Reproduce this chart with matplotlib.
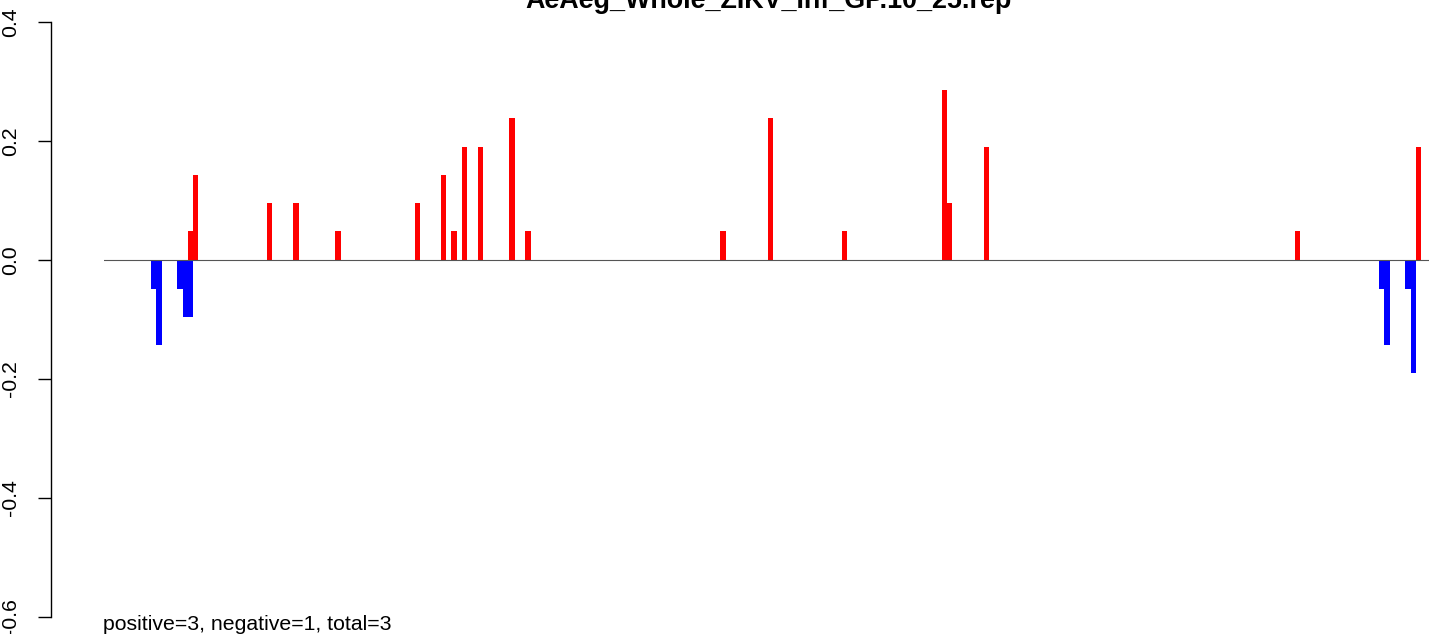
import matplotlib
matplotlib.use("Agg")
import matplotlib.pyplot as plt
from matplotlib.ticker import FormatStrFormatter

plt.rcParams['font.family'] = ['Liberation Sans', 'DejaVu Sans']

# ---- data (bar index along the sequence, value) ----
title = "AeAeg_Whole_ZIKV_Inf_GP.10_25.rep"
footer = "positive=3, negative=1, total=3"

pos_idx = [7, 8, 22, 27, 35, 50, 55, 57, 59, 62, 68, 71, 108, 117, 131, 150, 151, 158, 217, 240]
pos_val = [0.048, 0.143, 0.095, 0.095, 0.048, 0.095, 0.143, 0.048, 0.190, 0.190,
           0.238, 0.048, 0.048, 0.238, 0.048, 0.286, 0.095, 0.190, 0.048, 0.190]

neg_idx = [0, 1, 5, 6, 7, 233, 234, 238, 239]
neg_val = [-0.048, -0.143, -0.048, -0.095, -0.095, -0.048, -0.143, -0.048, -0.190]

yticks = [-0.6, -0.4, -0.2, 0.0, 0.2, 0.4]

# ---- figure ----
W, H, DPI = 1429, 634, 100
fig = plt.figure(figsize=(W / DPI, H / DPI), dpi=DPI)
ax_left_px = 104
ax = fig.add_axes([ax_left_px / W, 0, 1 - ax_left_px / W, 1])

bar_px = 5.271
first_px = 151
ax.set_xlim((ax_left_px - first_px) / bar_px, (W - first_px) / bar_px)
ppu = 595.0
ax.set_ylim(-0.6 - 17 / ppu, 0.4 + 22 / ppu)

ax.bar(neg_idx, neg_val, width=1.0, align='edge', color='#0000ff', linewidth=0, zorder=2)
ax.bar(pos_idx, pos_val, width=1.0, align='edge', color='#ff0000', linewidth=0, zorder=2)
ax.axhline(0, color='#555555', linewidth=0.8, zorder=3)

for s in ['top', 'right', 'bottom']:
    ax.spines[s].set_visible(False)
ax.spines['left'].set_position(('outward', (ax_left_px - 50.7) * 72 / DPI))
ax.spines['left'].set_bounds(-0.6, 0.4)
ax.spines['left'].set_linewidth(1.0)
ax.set_xticks([])
ax.set_yticks(yticks)
ax.yaxis.set_major_formatter(FormatStrFormatter('%.1f'))
ax.tick_params(axis='y', length=13 * 72 / DPI, width=1.0, pad=12.5, labelsize=15.3)
for lab in ax.get_yticklabels():
    lab.set_rotation(90)
    lab.set_va('center')

fig.text(768.5 / W, 1 - 8 / H, title, ha='center', va='baseline',
         fontsize=19.4, fontweight='bold')
fig.text(103 / W, 4 / H, footer, ha='left', va='baseline', fontsize=15.3)

fig.savefig('out.png', dpi=DPI)
